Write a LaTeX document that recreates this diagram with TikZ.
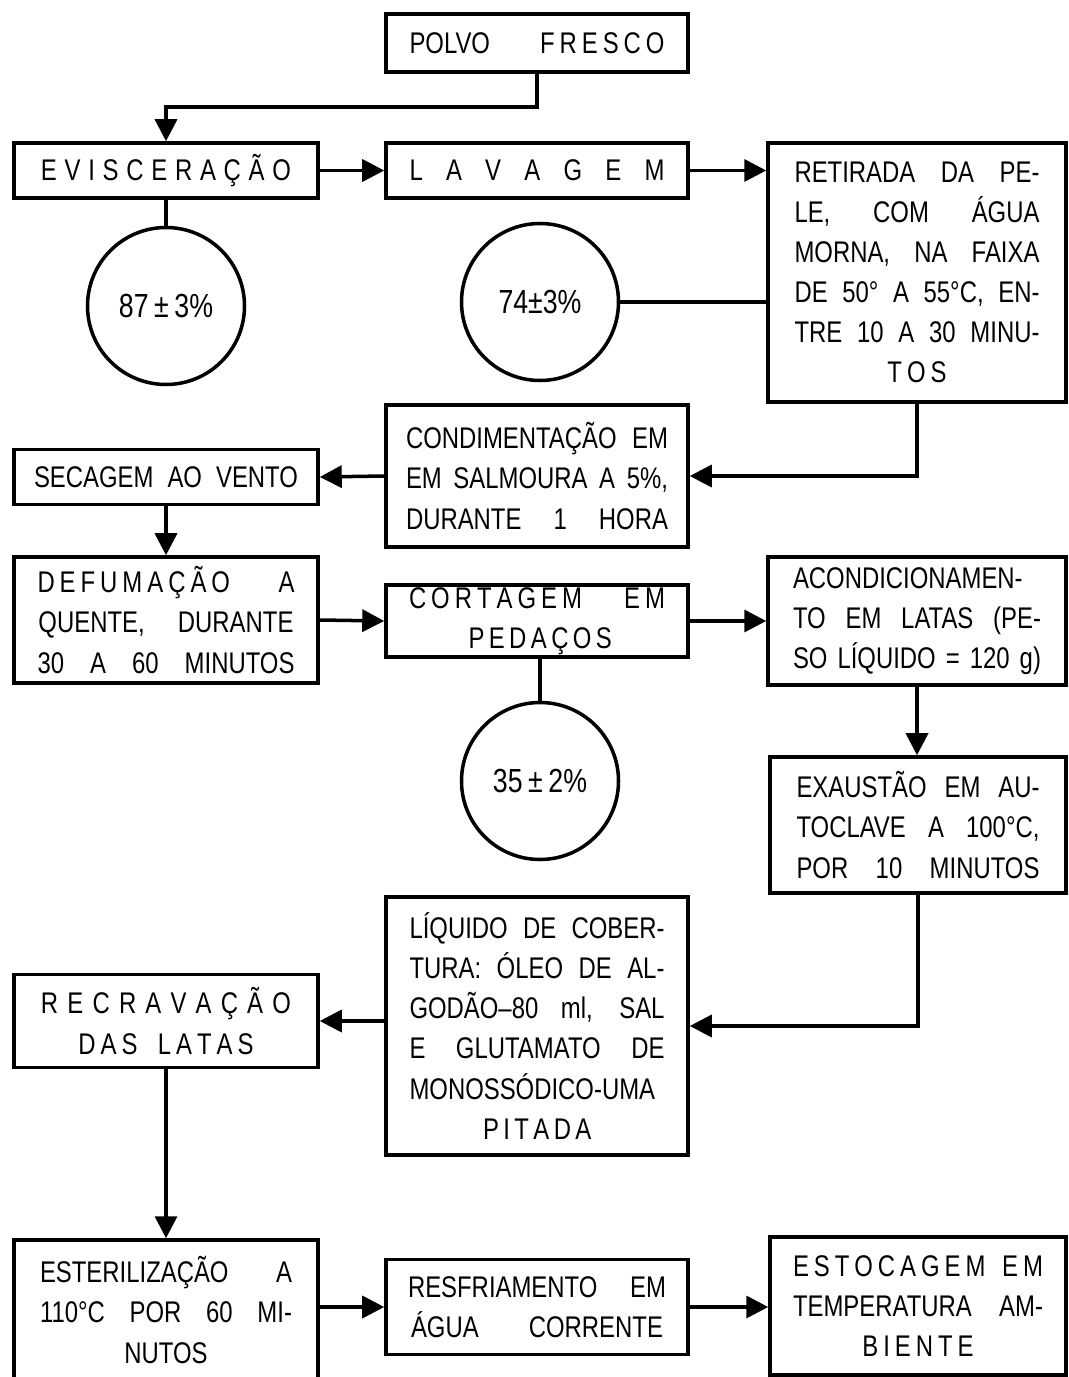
\documentclass[tikz,border=0pt]{standalone}
\usepackage{fontspec}
\setmainfont{Liberation Sans}[FakeStretch=0.8]
\usetikzlibrary{positioning, arrows.meta}

% linha justificada dentro das caixas
\newcommand{\lin}[2][2.5cm]{\makebox[#1][s]{#2}}

\begin{document}
\begin{tikzpicture}[
  caixa/.style={draw, line width=1pt, align=center, inner sep=0pt, font=\fontsize{8.5}{11.4}\selectfont},
  circulo/.style={draw, circle, line width=1pt, minimum size=1.57cm, inner sep=0pt, font=\fontsize{9.5}{10}\selectfont},
  seta/.style={line width=1pt, -{Triangle[length=0.22cm,width=0.22cm]}},
  liga/.style={line width=1pt}
]
\useasboundingbox (0,0) rectangle (10.68,-13.77);

% Linha 1
\node[caixa, minimum width=3.02cm, minimum height=0.58cm] (polvo) at (5.37,-0.43)
  {\lin[2.55cm]{POLVO\hfill F\,R\,E\,S\,C\,O}};
\node[caixa, minimum width=3.04cm, minimum height=0.55cm] (evisc) at (1.66,-1.705)
  {\lin{E V I S C E R A Ç Ã O}};
\node[caixa, minimum width=3.02cm, minimum height=0.55cm] (lavagem) at (5.37,-1.705)
  {\lin[2.55cm]{L A V A G E M}};
\node[caixa, minimum width=2.98cm, minimum height=2.59cm] (retirada) at (9.17,-2.725)
  {\lin[2.45cm]{RETIRADA DA PE-}\\ \lin[2.45cm]{LE, COM ÁGUA}\\ \lin[2.45cm]{MORNA, NA FAIXA}\\
   \lin[2.45cm]{DE 50° A 55°C, EN-}\\ \lin[2.45cm]{TRE 10 A 30 MINU-}\\ T\,O\,S};

% Rendimentos
\node[circulo] (c87) at (1.66,-3.06) {87\,±\,3\%};
\node[circulo] (c74) at (5.40,-3.02) {74±3\%};

% Linha 2
\node[caixa, minimum width=3.02cm, minimum height=1.42cm] (condim) at (5.37,-4.76)
  {\lin[2.62cm]{CONDIMENTAÇÃO EM}\\ \lin[2.62cm]{EM SALMOURA A 5\%,}\\ \lin[2.62cm]{DURANTE 1 HORA}};
\node[caixa, minimum width=3.04cm, minimum height=0.55cm] (secagem) at (1.66,-4.77)
  {\lin[2.64cm]{SECAGEM AO VENTO}};

% Linha 3
\node[caixa, minimum width=3.04cm, minimum height=1.26cm] (defum) at (1.66,-6.20)
  {\lin[2.57cm]{D\,E\,F\,U\,M\,A\,Ç\,Ã\,O\hfill A}\\ \lin[2.55cm]{QUENTE, DURANTE}\\ \lin[2.57cm]{30 A 60 MINUTOS}};
\node[caixa, minimum width=3.02cm, minimum height=0.72cm] (cortagem) at (5.37,-6.21)
  {\lin[2.56cm]{C\,O\,R\,T\,A\,G\,E\,M\hfill E\,M}\\ \lin[1.37cm]{P E D A Ç O S}};
\node[caixa, minimum width=2.98cm, minimum height=1.28cm] (acond) at (9.17,-6.21)
  {\lin[2.48cm]{ACONDICIONAMEN-}\\ \lin[2.48cm]{TO EM LATAS (PE-}\\ \lin[2.48cm]{SO LÍQUIDO = 120 g)}};
\node[circulo] (c35) at (5.40,-7.81) {35\,±\,2\%};
\node[caixa, minimum width=2.96cm, minimum height=1.36cm] (exaust) at (9.18,-8.25)
  {\lin[2.43cm]{EXAUSTÃO EM AU-}\\ \lin[2.43cm]{TOCLAVE A 100°C,}\\ \lin[2.43cm]{POR 10 MINUTOS}};

% Linha 4
\node[caixa, minimum width=3.02cm, minimum height=2.58cm] (liquido) at (5.37,-10.26)
  {\lin[2.55cm]{LÍQUIDO DE COBER-}\\ \lin[2.55cm]{TURA: ÓLEO DE AL-}\\ \lin[2.55cm]{GODÃO–80 ml, SAL}\\
   \lin[2.55cm]{E GLUTAMATO DE}\\ \lin[2.55cm]{MONOSSÓDICO-UMA}\\ \lin[1.08cm]{P I T A D A}};
\node[caixa, minimum width=3.04cm, minimum height=0.93cm] (recrav) at (1.66,-10.21)
  {\lin{R E C R A V A Ç Ã O}\\ \lin[1.75cm]{D\,A\,S\hfill L\,A\,T\,A\,S}};

% Linha 5
\node[caixa, minimum width=3.04cm, minimum height=1.40cm] (esteril) at (1.66,-13.10)
  {\lin[2.52cm]{ESTERILIZAÇÃO\hfill A}\\ \lin[2.52cm]{110°C POR 60 MI-}\\ NUTOS};
\node[caixa, minimum width=3.02cm, minimum height=0.95cm] (resfri) at (5.37,-13.07)
  {\lin[2.58cm]{RESFRIAMENTO EM}\\ \lin[2.52cm]{ÁGUA\hfill CORRENTE}};
\node[caixa, minimum width=2.96cm, minimum height=1.38cm] (estoc) at (9.18,-13.06)
  {\lin[2.5cm]{E\,S\,T\,O\,C\,A\,G\,E\,M\hfill E\,M}\\ \lin[2.5cm]{TEMPERATURA AM-}\\ B\,I\,E\,N\,T\,E};

% Setas
\draw[seta] (polvo.south) -- ++(0,-0.33) -| (evisc.north);
\draw[seta] (evisc.east) -- (lavagem.west);
\draw[seta] (lavagem.east) -- (lavagem.east -| retirada.west);
\draw[liga] (evisc.south) -- (c87.north);
\draw[liga] (c74.east) -- (c74.east -| retirada.west);
\draw[seta] (retirada.south) |- (condim.east);
\draw[seta] (condim.west) -- (secagem.east);
\draw[seta] (secagem.south) -- (defum.north);
\draw[seta] (defum.east) -- (cortagem.west);
\draw[seta] (cortagem.east) -- (acond.west);
\draw[liga] (c35.north |- cortagem.south) -- (c35.north);
\draw[seta] (acond.south) -- (acond.south |- exaust.north);
\draw[seta] (exaust.south) |- (liquido.east);
\draw[seta] (recrav.east -| liquido.west) -- (recrav.east);
\draw[seta] (recrav.south) -- (esteril.north);
\draw[seta] (resfri.west -| esteril.east) -- (resfri.west);
\draw[seta] (resfri.east) -- (resfri.east -| estoc.west);
\end{tikzpicture}
\end{document}
